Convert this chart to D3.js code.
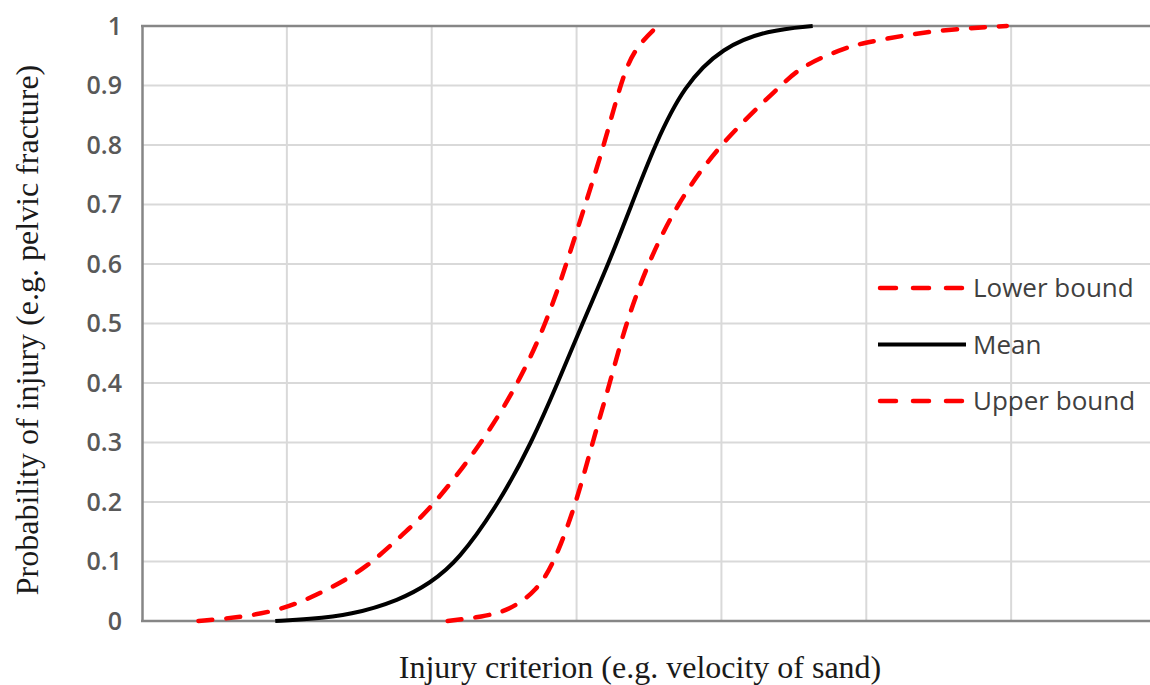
<!DOCTYPE html>
<html>
<head>
<meta charset="utf-8">
<script src="https://cdn.jsdelivr.net/npm/d3@7"></script>
<style>
  html, body { margin: 0; padding: 0; background: #fff; }
  svg { display: block; }
</style>
</head>
<body>
<svg id="chart" width="1150" height="685"></svg>
<script>
// Injury criterion values (arbitrary units, gridline every 1 unit) and probabilities
const lowerX = [0.39, 0.63, 0.98, 1.32, 1.55, 1.78, 2.0, 2.35, 2.60, 2.79, 2.93, 3.06, 3.19, 3.30, 3.39, 3.56];
const lowerP = [0, 0.005, 0.018, 0.057, 0.09, 0.141, 0.19, 0.30, 0.40, 0.50, 0.60, 0.70, 0.80, 0.90, 0.96, 1.0];

const meanX = [0.92, 1.15, 1.44, 1.78, 1.99, 2.18, 2.47, 2.69, 2.87, 3.04, 3.22, 3.38, 3.54, 3.74, 4.01, 4.32, 4.63];
const meanP = [0, 0.003, 0.010, 0.035, 0.064, 0.10, 0.20, 0.30, 0.40, 0.50, 0.60, 0.70, 0.80, 0.90, 0.965, 0.993, 1.0];

const upperX = [2.11, 2.35, 2.54, 2.73, 2.85, 3.00, 3.11, 3.23, 3.34, 3.49, 3.69, 3.98, 4.41, 4.56, 4.87, 5.01, 5.46, 5.97];
const upperP = [0, 0.007, 0.018, 0.052, 0.10, 0.20, 0.30, 0.40, 0.50, 0.60, 0.70, 0.80, 0.90, 0.934, 0.965, 0.973, 0.993, 1.0];

const yTicks = [0, 0.1, 0.2, 0.3, 0.4, 0.5, 0.6, 0.7, 0.8, 0.9, 1];
const xGrid = [1, 2, 3, 4, 5, 6];

const seriesNames = ["Lower bound", "Mean", "Upper bound"];

const svg = d3.select("#chart");
const plotLeft = 142, plotTop = 26, plotBottom = 621, plotRight = 1156;

const x = d3.scaleLinear().domain([0, 7]).range([plotLeft, plotRight]);
const y = d3.scaleLinear().domain([0, 1]).range([plotBottom, plotTop]);

const gridColor = "#d9d9d9";
const axisColor = "#868686";
const sans = "'Open Sans', Lato, sans-serif";
const serif = "'Liberation Serif', 'Times New Roman', serif";

// gridlines
svg.append("g").selectAll("line").data(yTicks.filter(d => d > 0 && d < 1)).join("line")
  .attr("x1", plotLeft).attr("x2", plotRight)
  .attr("y1", d => y(d)).attr("y2", d => y(d))
  .attr("stroke", gridColor).attr("stroke-width", 2);
svg.append("g").selectAll("line").data(xGrid).join("line")
  .attr("x1", d => x(d)).attr("x2", d => x(d))
  .attr("y1", plotTop).attr("y2", plotBottom)
  .attr("stroke", gridColor).attr("stroke-width", 2);

// y axis with tick labels
const yAxis = d3.axisLeft(y).tickValues(yTicks).tickSize(0).tickPadding(20)
  .tickFormat(d => d === 0 ? "0" : d === 1 ? "1" : d3.format(".1f")(d));
const gy = svg.append("g").attr("transform", `translate(${plotLeft},0)`).call(yAxis);
gy.select(".domain").attr("stroke", axisColor).attr("stroke-width", 2.5);
gy.selectAll("text")
  .attr("font-family", sans)
  .attr("font-size", 25).attr("font-weight", 600)
  .attr("fill", "#595959");

// frame lines at 0 and 1
svg.append("line").attr("x1", plotLeft - 1).attr("x2", plotRight).attr("y1", y(0)).attr("y2", y(0))
  .attr("stroke", axisColor).attr("stroke-width", 2.5);
svg.append("line").attr("x1", plotLeft - 1).attr("x2", plotRight).attr("y1", y(1)).attr("y2", y(1))
  .attr("stroke", axisColor).attr("stroke-width", 2.5);

// curves
const line = d3.line().x(d => x(d[0])).y(d => y(d[1])).curve(d3.curveBasis);
const series = [
  { name: seriesNames[0], pts: d3.zip(lowerX, lowerP), color: "#ff0000", dash: "14,14", w: 4.5 },
  { name: seriesNames[1], pts: d3.zip(meanX, meanP), color: "#000000", dash: null, w: 4 },
  { name: seriesNames[2], pts: d3.zip(upperX, upperP), color: "#ff0000", dash: "14,14", w: 4.5 }
];
svg.append("g").selectAll("path").data(series).join("path")
  .attr("d", d => line(d.pts))
  .attr("fill", "none")
  .attr("stroke", d => d.color)
  .attr("stroke-width", d => d.w)
  .attr("stroke-dasharray", d => d.dash)
  .attr("stroke-linecap", d => d.dash ? "round" : "butt");

// legend
const legend = svg.append("g").attr("transform", "translate(878,288)");
const rows = legend.selectAll("g").data(series).join("g")
  .attr("transform", (d, i) => `translate(0,${i * 56.5})`);
rows.append("line")
  .attr("x1", d => d.dash ? 2 : 0).attr("x2", d => d.dash ? 86 : 88).attr("y1", 0).attr("y2", 0)
  .attr("stroke", d => d.color).attr("stroke-width", d => d.w)
  .attr("stroke-dasharray", d => d.dash ? "16,17" : null)
  .attr("stroke-linecap", d => d.dash ? "round" : "butt");
rows.append("text")
  .attr("x", 95).attr("y", 0).attr("dy", "0.36em")
  .attr("font-family", sans)
  .attr("font-size", 26)
  .attr("fill", "#404040")
  .text(d => d.name);

// axis titles
svg.append("text")
  .attr("x", 640).attr("y", 678)
  .attr("text-anchor", "middle")
  .attr("font-family", serif)
  .attr("font-size", 32).attr("fill", "#1a1a1a")
  .text("Injury criterion (e.g. velocity of sand)");
svg.append("text")
  .attr("transform", "translate(38,330) rotate(-90)")
  .attr("text-anchor", "middle")
  .attr("font-family", serif)
  .attr("font-size", 32).attr("fill", "#1a1a1a")
  .text("Probability of injury (e.g. pelvic fracture)");
</script>
</body>
</html>
